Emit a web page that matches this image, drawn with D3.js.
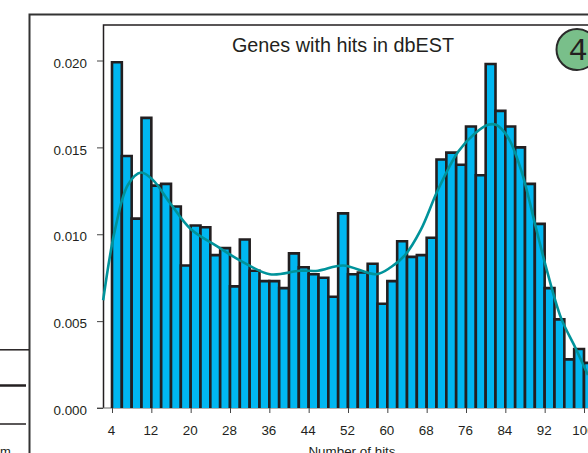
<!DOCTYPE html>
<html>
<head>
<meta charset="utf-8">
<script src="https://cdn.jsdelivr.net/npm/d3@7"></script>
<style>
  html, body { margin: 0; padding: 0; background: #fff; overflow: hidden; }
  svg { display: block; }
  text { font-family: "Liberation Sans", Arial, sans-serif; fill: #231f20; }
</style>
</head>
<body>
<svg width="588" height="453"></svg>
<script>
// Histogram values (left edge of each 2-wide bin)
const binStarts = [4, 6, 8, 10, 12, 14, 16, 18, 20, 22, 24, 26, 28, 30, 32, 34, 36, 38, 40, 42, 44, 46, 48, 50, 52,
    54, 56, 58, 60, 62, 64, 66, 68, 70, 72, 74, 76, 78, 80, 82, 84, 86, 88, 90, 92, 94, 96, 98, 100];
const binDensity = [.0199, .0145, .0109, .0167, .0128, .0129, .0116, .0082, .0105, .0104, .0088, .0092, .0070, .0097, .0079, .0073, .0073, .0069, .0089, .0081, .0077, .0075, .0064, .0112, .0077,
    .0078, .0083, .0060, .0073, .0096, .0087, .0088, .0098, .0143, .0147, .0140, .0162, .0134, .0198, .0171, .0162, .0150, .0129, .0106, .0069, .0051, .0028, .0034, .0026];

// Smoothed density curve
const curveHits = [2.2, 4.6, 7.25, 9.9, 12.3, 15.8, 20, 25.4, 30, 36.1, 42.2, 45.9, 51, 57.7, 60.7, 63.6, 66.8, 70.3, 74.4, 77.8, 80.5, 82.1, 84.5, 87.2, 90.2, 92, 95.3, 98.2, 100.8];
const curveDensity = [.0062, .01025, .01285, .01355, .01313, .0118, .0103, .0093, .0085, .0077, .0079, .0079, .0082, .0077, .0081, .0088, .01025, .01256, .01475, .0158, .0163, .0163, .0156, .0137, .0104, .0084, .0052, .0035, .0019];

const xTicks = [4, 12, 20, 28, 36, 44, 52, 60, 68, 76, 84, 92, 100];
const yTicks = [0, 0.005, 0.01, 0.015, 0.02];

const ink = "#231f20";
const svg = d3.select("svg");

// Scales
const x = d3.scaleLinear().domain([4, 100]).range([112, 584]);
const y = d3.scaleLinear().domain([0, 0.02]).range([408, 60.5]);

// Outer frame and plot frame, both run off the page
svg.append("path")
    .attr("d", "M29.5,453V14.5H588")
    .attr("fill", "none").attr("stroke", "#333").attr("stroke-width", 2);
svg.append("path")
    .attr("d", "M103.5,408V25H588")
    .attr("fill", "none").attr("stroke", ink).attr("stroke-width", 1.5);
svg.append("line")
    .attr("x1", 97).attr("x2", 588).attr("y1", 408).attr("y2", 408)
    .attr("stroke", "#666").attr("stroke-width", 1);

// Left over rules from the neighbouring panel
[[349.8, 29, 1.5], [385.5, 26, 2.5], [424, 26, 1.5]].forEach(([ly, lx, lw]) => {
    svg.append("line")
        .attr("x1", 0).attr("x2", lx).attr("y1", ly).attr("y2", ly)
        .attr("stroke", ink).attr("stroke-width", lw);
});
svg.append("text").attr("x", 0).attr("y", 456).attr("font-size", 13).text("m");

// Bars, open at the bottom
svg.append("g").selectAll("path")
    .data(binStarts.map((s, i) => ({ start: s, value: binDensity[i] })))
    .join("path")
    .attr("d", d => {
        const p = d3.path();
        p.moveTo(x(d.start), y(0));
        p.lineTo(x(d.start), y(d.value));
        p.lineTo(x(d.start + 2), y(d.value));
        p.lineTo(x(d.start + 2), y(0));
        return p.toString();
    })
    .attr("fill", "#00b7f1")
    .attr("stroke", ink)
    .attr("stroke-width", 2.6);

// Density curve
const line = d3.line()
    .x(d => x(d[0]))
    .y(d => y(d[1]))
    .curve(d3.curveCatmullRom);
svg.append("path")
    .datum(curveHits.map((h, i) => [h, curveDensity[i]]))
    .attr("d", line)
    .attr("fill", "none")
    .attr("stroke", "#00939b")
    .attr("stroke-width", 2.6);

// Axes
const yAxis = d3.axisLeft(y).tickValues(yTicks).tickFormat(d3.format(".3f")).tickSize(6).tickPadding(10);
const yG = svg.append("g").attr("transform", "translate(103,0)").call(yAxis);
const xAxis = d3.axisBottom(x).tickValues(xTicks).tickFormat(d3.format("d")).tickSize(5).tickPadding(12);
const xG = svg.append("g").attr("transform", "translate(0,408)").call(xAxis);
[yG, xG].forEach(g => {
    g.select(".domain").remove();
    g.selectAll("line").attr("stroke", "#444").attr("stroke-width", 1);
    g.selectAll("text").attr("font-size", 13.4).attr("fill", "#333")
        .style("font-family", '"Liberation Sans", Arial, sans-serif');
});
xG.selectAll("text").attr("dx", -1);
yG.selectAll("text").attr("dy", "0.5em");

// Titles
svg.append("text").attr("x", 343).attr("y", 52).attr("text-anchor", "middle")
    .attr("font-size", 19.8).text("Genes with hits in dbEST");
svg.append("text").attr("x", 352).attr("y", 455.5).attr("text-anchor", "middle")
    .attr("font-size", 13.4).text("Number of hits");

// Panel badge
svg.append("circle").attr("cx", 577).attr("cy", 49.5).attr("r", 20.5)
    .attr("fill", "#79bf8a").attr("stroke", "#2a2a2a").attr("stroke-width", 2);
svg.append("text").attr("x", 578).attr("y", 60).attr("text-anchor", "middle")
    .attr("font-size", 32).style("font-family", '"Liberation Mono", monospace').text("4");
</script>
</body>
</html>
